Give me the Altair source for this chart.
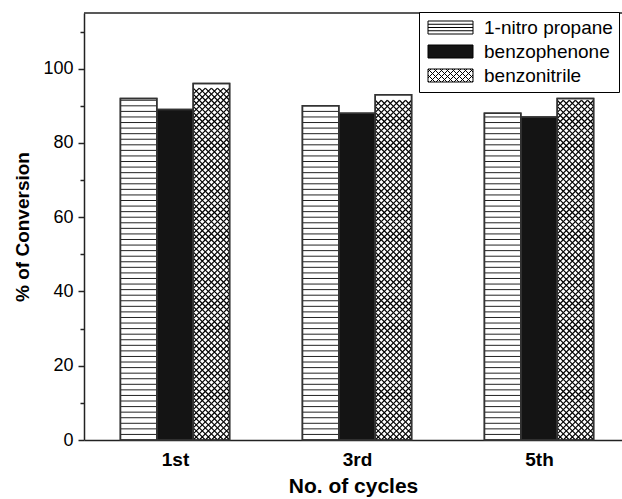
import altair as alt
import pandas as pd

# ---------------- data ----------------
cycles = ["1st", "3rd", "5th"]
series = ["1-nitro propane", "benzophenone", "benzonitrile"]
nitro_propane = [92, 90, 88]
benzophenone = [89, 88, 87]
benzonitrile = [96, 93, 92]

rows = []
for s_i, (name, vals) in enumerate(zip(series, [nitro_propane, benzophenone, benzonitrile])):
    for c_i, (cyc, v) in enumerate(zip(cycles, vals)):
        rows.append({"cycle": cyc, "ci": c_i, "series": name, "si": s_i, "value": v})
df = pd.DataFrame(rows)

# ---------------- layout / style ----------------
FONT = "Liberation Sans"
W, H = 538, 427
X_DOM = [-0.5, 2.456]
Y_DOM = [0, 115]
BAR_W = 0.2
PX_X = W / (X_DOM[1] - X_DOM[0])
PX_Y = H / (Y_DOM[1] - Y_DOM[0])
HATCH_PX = BAR_W * PX_X / 6
DX = BAR_W / 6
DY = HATCH_PX / PX_Y
LINE_STEP = 1.5

xscale = alt.Scale(domain=X_DOM, nice=False, zero=False)
yscale = alt.Scale(domain=Y_DOM, nice=False, zero=False)

label_expr = "[" + ",".join(f"'{c}'" for c in cycles) + "][datum.value]"
xaxis = alt.Axis(values=list(range(len(cycles))), labelExpr=label_expr, ticks=False, tickSize=0,
                 grid=False, title="No. of cycles", labelFont=FONT, labelFontSize=19,
                 labelFontWeight="bold", labelColor="black", labelPadding=10,
                 titleFont=FONT, titleFontSize=21, titleFontWeight="bold", titleColor="black",
                 titlePadding=6, domainColor="#222", domainWidth=1.5, labelFlush=False)
yaxis = alt.Axis(values=list(range(0, 111, 10)),
                 labelExpr="datum.value % 20 === 0 ? datum.label : ''",
                 tickSize={"condition": {"test": "datum.value % 20 !== 0", "value": 4}, "value": 6},
                 tickColor="#222", tickWidth=1.5, grid=False, title="% of Conversion",
                 labelFont=FONT, labelFontSize=18, labelColor="black", labelPadding=5,
                 titleFont=FONT, titleFontSize=19, titleFontWeight="bold", titleColor="black",
                 titlePadding=10, domainColor="#222", domainWidth=1.5)

fillscale = alt.Scale(domain=series, range=["white", "#141414", "white"])
strokescale = alt.Scale(domain=series, range=["black", "black", "black"])

# ---------------- legend swatches (custom symbol paths) ----------------
SW_X0, SW_X1, SW_Y0, SW_Y1 = -1.0, -1.0 + 45 / 6.5, -1.0, 1.0


def rect_path():
    return f"M{SW_X0},{SW_Y0}H{SW_X1:.3f}V{SW_Y1}H{SW_X0}Z"


def hlines_path():
    p = rect_path()
    for y in (-0.5, 0.0, 0.5):
        p += f"M{SW_X0},{y}H{SW_X1:.3f}"
    return p


def xhatch_path(period):
    p = rect_path()
    c = SW_Y0 - SW_X1 + period / 2
    while c < SW_Y1 - SW_X0:
        xa, xb = max(SW_X0, SW_Y0 - c), min(SW_X1, SW_Y1 - c)
        if xb - xa > 1e-6:
            p += f"M{xa:.3f},{xa + c:.3f}L{xb:.3f},{xb + c:.3f}"
        c += period
    c = SW_X0 + SW_Y0 + period / 2
    while c < SW_X1 + SW_Y1:
        xa, xb = max(SW_X0, c - SW_Y1), min(SW_X1, c - SW_Y0)
        if xb - xa > 1e-6:
            p += f"M{xa:.3f},{c - xa:.3f}L{xb:.3f},{c - xb:.3f}"
        c += period
    return p


shapescale = alt.Scale(domain=series, range=[hlines_path(), rect_path(), xhatch_path(6 / 6.5)])

legend = alt.Legend(title=None, orient="none", legendX=335, legendY=-1, strokeColor="black",
                    fillColor="white", padding=6, labelFont=FONT, labelFontSize=19,
                    labelColor="black", labelOffset=40, rowPadding=4,
                    symbolStrokeWidth=1, symbolSize=169, labelLimit=400,
                    symbolStrokeColor="black", symbolType="square")

# ---------------- layers (same axis / legend objects everywhere) ----------------
base = alt.Chart(df).transform_calculate(
    x1=f"datum.ci + (datum.si - 1) * {BAR_W} - {BAR_W / 2}",
    x2=f"datum.ci + (datum.si - 1) * {BAR_W} + {BAR_W / 2}",
)

bars = base.mark_rect(stroke="#333", strokeWidth=1.5).encode(
    x=alt.X("x1:Q", scale=xscale, axis=xaxis),
    x2="x2:Q",
    y=alt.Y("value:Q", scale=yscale, axis=yaxis),
    y2=alt.datum(0),
    fill=alt.Fill("series:N", scale=fillscale, legend=legend),
)

hlines = base.transform_filter(alt.datum.si == 0).transform_calculate(
    hy=f"sequence({LINE_STEP}, datum.value, {LINE_STEP})"
).transform_flatten(["hy"]).mark_rule(color="#222", strokeWidth=1).encode(
    x=alt.X("x1:Q", scale=xscale, axis=xaxis),
    x2="x2:Q",
    y=alt.Y("hy:Q", scale=yscale, axis=yaxis),
)

xhatch = base.transform_filter(alt.datum.si == 2).transform_calculate(
    cx=f"sequence(datum.x1 + {DX / 2}, datum.x2, {DX})",
    cy=f"sequence({DY / 2}, datum.value - {DY / 2} + 0.01, {DY})",
).transform_flatten(["cx"]).transform_flatten(["cy"]).mark_point(
    shape="M-1,-1L1,1M-1,1L1,-1", size=HATCH_PX ** 2, filled=False, stroke="black",
    strokeWidth=1.2, opacity=1
).encode(
    x=alt.X("cx:Q", scale=xscale, axis=xaxis),
    y=alt.Y("cy:Q", scale=yscale, axis=yaxis),
)

outline = base.mark_rect(stroke="#333", strokeWidth=1.5, fillOpacity=0).encode(
    x=alt.X("x1:Q", scale=xscale, axis=xaxis),
    x2="x2:Q",
    y=alt.Y("value:Q", scale=yscale, axis=yaxis),
    y2=alt.datum(0),
)

top_border = alt.Chart(pd.DataFrame({"top": [Y_DOM[1]]})).mark_rule(
    color="#222", strokeWidth=1.5
).encode(y=alt.Y("top:Q", scale=yscale, axis=yaxis))

legend_pts = base.transform_filter("datum.value < 0").mark_point(
    filled=True, size=169, strokeWidth=1, opacity=1
).encode(
    x=alt.X("x1:Q", scale=xscale, axis=xaxis),
    y=alt.Y("value:Q", scale=yscale, axis=yaxis),
    shape=alt.Shape("series:N", scale=shapescale, legend=legend),
    fill=alt.Fill("series:N", scale=fillscale, legend=legend),
    stroke=alt.Stroke("series:N", scale=strokescale, legend=legend),
)

chart = alt.layer(bars, hlines, xhatch, outline, top_border, legend_pts).properties(
    width=W, height=H,
    autosize=alt.AutoSizeParams(type="none"),
    padding={"left": 84, "top": 13, "right": 0, "bottom": 59},
    background="white",
).configure_view(stroke=None)

chart.save("out.html", embed_options={"renderer": "svg", "actions": False})
